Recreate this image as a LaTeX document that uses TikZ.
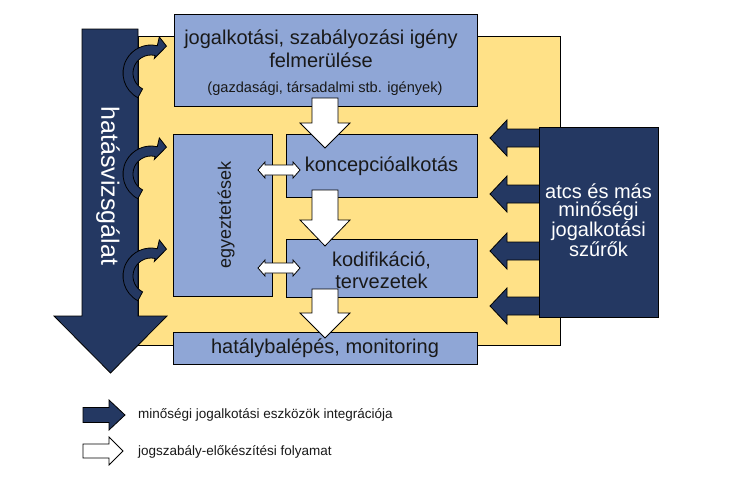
\documentclass[tikz,border=0pt]{standalone}
\usepackage{fontspec}
\setmainfont{Liberation Sans}
\usetikzlibrary{calc}
\definecolor{navy}{RGB}{36,56,98}
\definecolor{boxblue}{RGB}{143,166,214}
\definecolor{paleyellow}{RGB}{255,225,135}
\tikzset{
  outl/.style={draw=black, line width=0.8pt},
  box/.style={outl, fill=boxblue, inner sep=0pt, align=center, text=black!90,
    font=\fontsize{20}{23}\selectfont},
  darkshape/.style={outl, fill=navy},
  whiteshape/.style={outl, fill=white},
  lbl/.style={inner sep=0pt, align=center, text=black!90},
}
\newcommand\wdown[3]{\filldraw[whiteshape] (312,#1) -- (338,#1) -- (338,#2) -- (350,#2) -- (325,#3) -- (300,#2) -- (312,#2) -- cycle;}
\newcommand\wdouble[1]{\filldraw[whiteshape] (258,#1) -- (265,#1-8) -- (265,#1-5) -- (293,#1-5) -- (293,#1-8) -- (300,#1) -- (293,#1+8) -- (293,#1+5) -- (265,#1+5) -- (265,#1+8) -- cycle;}
\newcommand\dleft[1]{\filldraw[darkshape] (541,#1-9) -- (507,#1-9) -- (507,#1-18) -- (490,#1) -- (507,#1+18) -- (507,#1+9) -- (541,#1+9) -- cycle;}
\newcommand\curvarr[1]{\filldraw[darkshape] ($(151,#1)+(118:28)$) arc[start angle=118, end angle=283, radius=28] -- ($(151,#1)+(283:37)$) -- ($(151,#1)+(300:31)$) -- ($(151,#1)+(283:15)$) -- ($(151,#1)+(283:18)$) arc[start angle=283, end angle=118, radius=18] -- cycle;}
\begin{document}
\begin{tikzpicture}[x=1pt,y=-1pt]
\useasboundingbox (0,0) rectangle (730,485);
\fill[white] (0,0) rectangle (730,485);
% yellow background panel
\filldraw[outl, fill=paleyellow] (138,36) rectangle (560,345);
% big impact assessment arrow
\filldraw[darkshape] (82,29) -- (138,29) -- (138,316) -- (167,316) -- (110.5,373) -- (54,316) -- (82,316) -- cycle;
\node[rotate=-90, text=white, inner sep=0pt, font=\fontsize{25}{28}\selectfont] (hv) at (108,186) {hatásvizsgálat};
% boxes
\node[box, minimum width=303pt, minimum height=92pt] (top) at (325.5,60) {};
\node[lbl, font=\fontsize{20}{23}\selectfont] (toptxt) at (321,49) {jogalkotási, szabályozási igény\\felmerülése};
\node[lbl, font=\fontsize{14.6}{16}\selectfont] (topsub) at (325,89) {(gazdasági, társadalmi stb. igények)};
\node[box, minimum width=99pt, minimum height=162pt] (egy) at (222.5,215) {};
\node[lbl, rotate=90, font=\fontsize{18}{21}\selectfont] (egytxt) at (226,215) {egyeztetések};
\node[box, minimum width=191pt, minimum height=63pt] (konc) at (381.5,165.5) {};
\node[lbl, font=\fontsize{20}{23}\selectfont] (konctxt) at (381.5,166) {koncepcióalkotás};
\node[box, minimum width=191pt, minimum height=58pt] (kod) at (381.5,268) {};
\node[lbl, font=\fontsize{20}{22}\selectfont] (kodtxt) at (381.5,270) {kodifikáció,\\tervezetek};
\node[box, minimum width=304pt, minimum height=32pt] (hat) at (325,348) {};
\node[lbl, font=\fontsize{20}{23}\selectfont] (hattxt) at (325,348) {hatálybalépés, monitoring};
% process arrows
\wdown{98}{123}{148}
\wdown{190}{220}{246}
\wdown{289}{313}{338}
\wdouble{170}
\wdouble{268}
% quality filter arrows
\dleft{138}
\dleft{194}
\dleft{251}
\dleft{306}
\node[box, fill=navy, minimum width=119pt, minimum height=190pt] (atcs) at (598.5,222) {};
\node[lbl, text=white, font=\fontsize{20}{18.5}\selectfont] (atcstxt) at (598.5,220) {atcs és más\\minőségi\\jogalkotási\\szűrők};
% curved feedback arrows
\curvarr{73}
\curvarr{174}
\curvarr{276}
% legend
\filldraw[darkshape] (83,407.5) -- (109,407.5) -- (109,400) -- (125,415) -- (109,430) -- (109,422.5) -- (83,422.5) -- cycle;
\node[lbl, anchor=west, font=\fontsize{13.5}{16}\selectfont] (leg1) at (138,415) {minőségi jogalkotási eszközök integrációja};
\filldraw[whiteshape] (83,444) -- (109,444) -- (109,437) -- (123,451) -- (109,465) -- (109,458) -- (83,458) -- cycle;
\node[lbl, anchor=west, font=\fontsize{13.5}{16}\selectfont] (leg2) at (138,452) {jogszabály-előkészítési folyamat};
\end{tikzpicture}
\end{document}
